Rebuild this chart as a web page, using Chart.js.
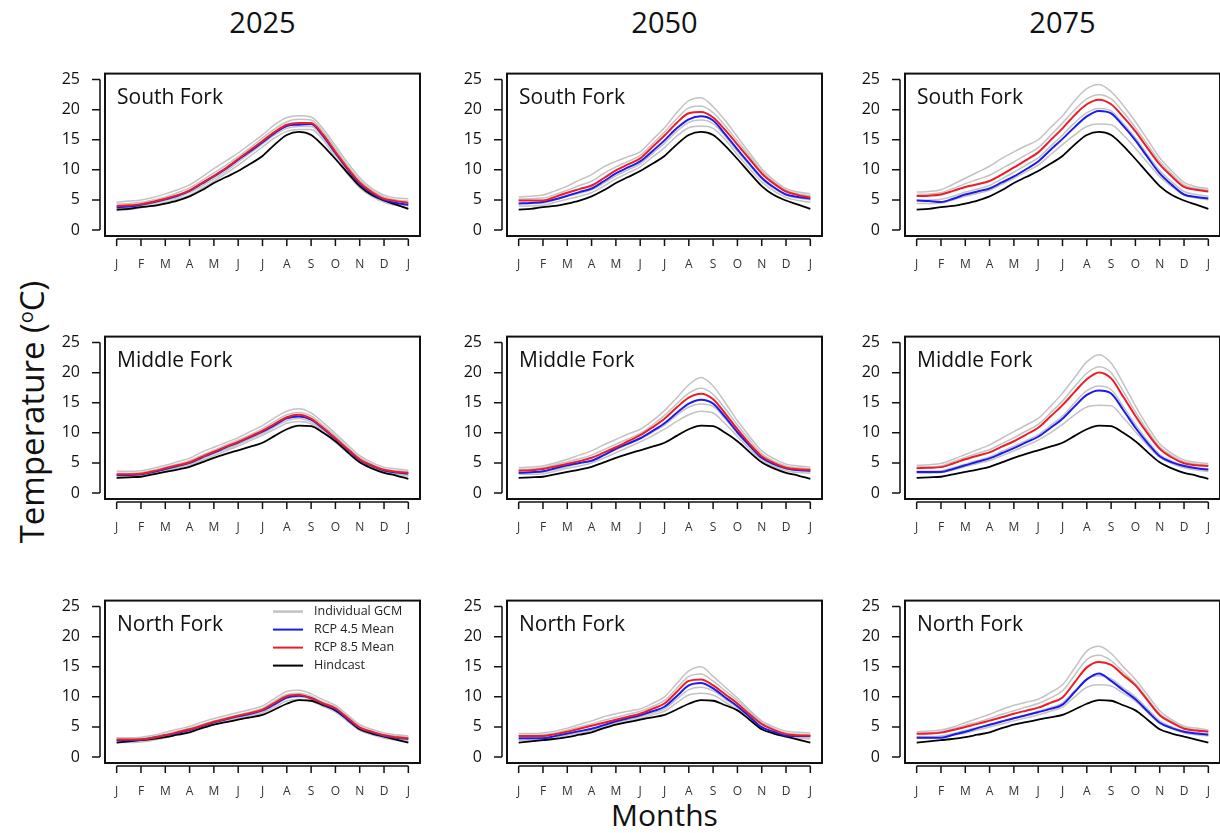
<!DOCTYPE html>
<html>
<head>
<meta charset="utf-8">
<script src="https://cdn.jsdelivr.net/npm/chart.js@4.4.1/dist/chart.umd.min.js"></script>
<style>
  body { margin: 0; background: #fff; width: 1220px; height: 833px; overflow: hidden; position: relative; font-family: "Open Sans", sans-serif; }
  canvas { position: absolute; }
  .title { position: absolute; text-align: center; font-size: 29px; line-height: 36px; color: #111; }
  #ytitle { position: absolute; left: 31px; top: 412px; transform: translate(-50%, -50%) rotate(-90deg); white-space: nowrap; font-size: 33px; color: #111; }
  #ytitle sup { font-size: 20px; vertical-align: 11px; }
</style>
</head>
<body>
<div class="title" style="left:105px;width:315px;top:4px">2025</div>
<div class="title" style="left:507px;width:315px;top:4px">2050</div>
<div class="title" style="left:905px;width:315px;top:4px">2075</div>
<div id="ytitle">Temperature (<sup>o</sup>C)</div>
<div class="title" style="left:507px;width:315px;top:797px;font-size:30px">Months</div>

<script>
// x positions: 1st and 15th of each month (0 = 1 Jan, 12 = 1 Jan next year)
const xMonths = [0,0.5,1,1.5,2,2.5,3,3.5,4,4.5,5,5.5,6,6.5,7,7.5,8,8.5,9,9.5,10,10.5,11,11.5,12];
const monthTicks = [0,1,2,3,4,5,6,7,8,9,10,11,12];
const monthLabels = ['J','F','M','A','M','J','J','A','S','O','N','D','J'];
const tempTicks = [0,5,10,15,20,25];
const years = ['2025','2050','2075'];
const forks = ['South Fork','Middle Fork','North Fork'];

// hindcast (same in every year)
const sfHind = [3.4,3.5,3.8,4.0,4.4,4.9,5.6,6.6,7.8,8.8,9.8,11.0,12.3,14.2,15.8,16.3,15.8,14.0,11.8,9.5,7.3,5.8,4.9,4.2,3.5];
const mfHind = [2.5,2.6,2.7,3.1,3.5,3.9,4.35,5.1,5.85,6.5,7.1,7.7,8.35,9.5,10.6,11.2,11.1,10.0,8.6,6.8,5.1,4.1,3.35,2.9,2.35];
const nfHind = [2.4,2.6,2.8,3.0,3.3,3.7,4.1,4.8,5.4,5.8,6.2,6.6,7.0,7.9,8.85,9.45,9.35,8.6,7.75,6.2,4.6,3.9,3.4,2.9,2.4];

// South Fork
const sf2025Rcp45 = [3.8,3.9,4.2,4.6,5.1,5.7,6.5,7.7,8.9,10.2,11.7,13.1,14.6,16.1,17.3,17.5,17.6,15.6,12.8,10.1,7.7,6.1,5.0,4.5,4.2];
const sf2025Rcp85 = [4.0,4.1,4.3,4.7,5.2,5.8,6.6,7.8,9.0,10.3,11.8,13.3,14.8,16.3,17.5,17.8,17.8,15.8,13.0,10.3,7.9,6.3,5.2,4.8,4.5];
const sf2025Gcm = [
  [4.6,4.8,5.0,5.4,6.0,6.7,7.5,8.8,10.2,11.5,12.8,14.3,15.8,17.5,18.7,19.0,18.8,16.8,14.0,11.2,8.7,6.9,5.8,5.3,5.2],
  [4.3,4.4,4.6,5.0,5.5,6.2,7.0,8.2,9.5,10.8,12.2,13.7,15.3,16.8,18.0,18.4,18.3,16.3,13.5,10.7,8.3,6.6,5.5,5.0,4.8],
  [3.6,3.7,4.0,4.4,4.9,5.4,6.2,7.3,8.5,9.8,11.3,12.8,14.3,15.8,16.9,17.2,17.2,15.3,12.5,9.8,7.4,5.9,4.8,4.3,4.0],
  [3.2,3.4,3.7,4.1,4.6,5.1,5.8,6.9,8.1,9.4,10.8,12.3,13.8,15.3,16.4,16.7,16.7,14.9,12.0,9.3,7.0,5.6,4.6,4.1,3.7]
];
const sf2050Rcp45 = [4.4,4.5,4.65,5.1,5.7,6.3,6.9,8.1,9.4,10.4,11.4,13.1,14.9,16.9,18.4,18.9,18.2,15.9,13.4,11.0,8.7,7.1,5.9,5.5,5.2];
const sf2050Rcp85 = [4.9,4.9,4.9,5.5,6.2,6.8,7.4,8.6,9.9,10.9,11.9,13.8,15.7,17.8,19.4,19.6,18.7,16.6,14.2,11.8,9.4,7.7,6.4,5.8,5.4];
const sf2050Gcm = [
  [5.5,5.6,5.8,6.5,7.3,8.3,9.2,10.5,11.4,12.2,13.0,15.0,17.0,19.5,21.5,22.0,20.5,18.2,15.5,12.8,10.2,8.3,6.9,6.3,6.0],
  [5.1,5.2,5.3,5.9,6.6,7.4,8.1,9.4,10.5,11.4,12.4,14.3,16.3,18.5,20.3,20.6,19.5,17.3,14.8,12.3,9.8,8.0,6.6,6.0,5.7],
  [4.4,4.4,4.5,5.0,5.6,6.1,6.7,7.8,9.0,10.0,11.0,12.7,14.4,16.4,17.9,18.3,17.7,15.6,13.1,10.8,8.5,6.9,5.8,5.3,5.0],
  [4.0,4.0,4.1,4.6,5.1,5.6,6.2,7.3,8.5,9.5,10.5,12.1,13.7,15.6,17.0,17.3,16.9,15.0,12.5,10.2,8.0,6.5,5.4,4.9,4.6]
];
const sf2075Rcp45 = [4.9,4.8,4.65,5.2,5.9,6.4,6.9,7.9,8.9,10.1,11.4,13.3,15.15,17.1,18.9,19.8,19.4,17.3,14.9,12.1,9.4,7.5,5.9,5.5,5.25];
const sf2075Rcp85 = [5.65,5.7,5.9,6.5,7.15,7.6,8.15,9.2,10.4,11.6,12.9,14.9,16.9,19.1,20.9,21.65,20.9,18.8,16.4,13.6,10.9,8.9,7.15,6.7,6.4];
const sf2075Gcm = [
  [6.3,6.4,6.7,7.6,8.6,9.6,10.6,11.9,13.0,14.0,15.0,17.0,19.0,21.5,23.5,24.2,23.0,20.7,18.0,15.0,12.0,9.8,7.9,7.2,6.9],
  [5.9,6.0,6.2,6.9,7.7,8.4,9.1,10.2,11.3,12.5,13.7,15.7,17.8,20.0,21.8,22.5,21.8,19.6,17.0,14.2,11.4,9.3,7.5,6.9,6.6],
  [5.0,5.0,5.1,5.6,6.3,6.8,7.4,8.5,9.6,10.8,12.0,13.9,15.8,17.8,19.5,20.2,19.8,17.7,15.3,12.5,9.9,8.0,6.4,5.9,5.6],
  [4.4,4.4,4.5,5.0,5.6,6.1,6.6,7.6,8.6,9.7,10.8,12.5,14.2,15.8,17.2,17.6,17.5,15.8,13.6,11.2,8.9,7.2,5.8,5.3,5.0]
];

// Middle Fork
const mf2025Rcp45 = [3.0,3.0,3.1,3.5,4.0,4.5,5.0,5.9,6.7,7.6,8.4,9.3,10.2,11.3,12.4,12.7,12.2,10.7,9.0,7.2,5.5,4.5,3.75,3.4,3.25];
const mf2025Rcp85 = [3.1,3.1,3.2,3.6,4.1,4.6,5.1,6.0,6.85,7.7,8.5,9.4,10.35,11.5,12.6,13.0,12.35,10.8,9.1,7.3,5.6,4.6,3.85,3.5,3.35];
const mf2025Gcm = [
  [3.6,3.6,3.7,4.1,4.6,5.2,5.8,6.8,7.6,8.4,9.2,10.2,11.2,12.5,13.6,14.0,13.3,11.7,9.9,8.0,6.2,5.1,4.3,4.0,3.8],
  [3.3,3.3,3.4,3.8,4.3,4.8,5.4,6.3,7.1,8.0,8.8,9.7,10.7,11.9,13.0,13.4,12.8,11.2,9.5,7.6,5.9,4.8,4.0,3.7,3.5],
  [2.9,2.9,3.0,3.4,3.8,4.3,4.8,5.6,6.5,7.3,8.1,9.0,9.9,11.0,12.0,12.4,11.8,10.3,8.7,6.9,5.3,4.3,3.6,3.2,3.0],
  [2.7,2.7,2.8,3.2,3.6,4.1,4.6,5.4,6.2,7.0,7.8,8.7,9.6,10.6,11.6,11.9,11.5,10.0,8.4,6.7,5.1,4.1,3.4,3.0,2.8]
];
const mf2050Rcp45 = [3.35,3.45,3.6,4.1,4.6,5.0,5.35,6.3,7.35,8.2,9.1,10.3,11.6,13.3,14.85,15.5,14.85,12.6,10.1,7.9,5.85,4.8,4.1,3.8,3.7];
const mf2050Rcp85 = [3.7,3.8,4.0,4.4,4.85,5.3,5.85,6.7,7.6,8.6,9.6,10.9,12.35,14.2,15.85,16.5,15.6,13.2,10.6,8.2,6.1,5.0,4.2,3.95,3.85];
const mf2050Gcm = [
  [4.2,4.3,4.5,5.0,5.6,6.3,7.0,8.0,8.9,9.8,10.6,12.0,13.7,15.8,18.0,19.2,17.8,15.0,12.0,9.4,7.0,5.7,4.8,4.5,4.3],
  [3.9,4.0,4.2,4.7,5.2,5.7,6.3,7.2,8.1,9.0,9.9,11.3,12.9,14.8,16.6,17.4,16.4,14.0,11.3,8.8,6.5,5.3,4.5,4.2,4.0],
  [3.3,3.4,3.5,3.9,4.4,4.9,5.4,6.3,7.2,8.1,9.0,10.1,11.3,12.9,14.3,14.8,14.4,12.3,9.9,7.7,5.7,4.7,4.0,3.7,3.5],
  [3.1,3.1,3.2,3.6,4.1,4.5,5.0,5.8,6.7,7.6,8.5,9.5,10.6,11.9,13.0,13.6,13.3,11.5,9.4,7.3,5.4,4.4,3.7,3.4,3.3]
];
const mf2075Rcp45 = [3.5,3.5,3.5,4.0,4.6,5.2,5.75,6.6,7.45,8.4,9.35,10.8,12.35,14.4,16.3,17.05,16.55,13.8,10.85,8.3,6.1,5.1,4.5,4.1,3.9];
const mf2075Rcp85 = [4.1,4.2,4.3,4.9,5.6,6.2,6.75,7.7,8.6,9.7,10.85,12.7,14.6,16.8,18.9,20.05,19.05,16.0,12.8,9.9,7.35,5.9,4.95,4.6,4.5];
const mf2075Gcm = [
  [4.6,4.7,4.9,5.6,6.4,7.2,8.0,9.1,10.2,11.3,12.4,14.4,16.6,19.2,21.8,23.0,21.6,18.2,14.5,11.1,8.2,6.6,5.5,5.1,4.9],
  [4.3,4.3,4.5,5.2,5.9,6.6,7.2,8.2,9.2,10.3,11.4,13.3,15.3,17.7,19.9,21.0,20.0,16.9,13.5,10.4,7.7,6.2,5.2,4.8,4.6],
  [3.6,3.6,3.7,4.2,4.8,5.4,6.0,6.9,7.8,8.7,9.7,11.2,12.8,15.0,17.0,17.8,17.2,14.4,11.4,8.7,6.4,5.3,4.6,4.2,4.0],
  [3.3,3.3,3.4,3.8,4.4,4.9,5.4,6.2,7.0,7.9,8.8,10.0,11.4,13.0,14.3,14.6,14.5,12.5,10.2,7.9,5.9,4.9,4.2,3.8,3.6]
];

// North Fork
const nf2025Rcp45 = [2.8,2.8,2.9,3.2,3.6,4.0,4.5,5.1,5.75,6.25,6.75,7.2,7.75,8.8,9.9,10.2,9.8,8.8,7.9,6.3,4.8,4.1,3.5,3.2,3.0];
const nf2025Rcp85 = [2.9,2.9,2.9,3.2,3.6,4.1,4.6,5.2,5.85,6.35,6.85,7.3,7.85,9.0,10.1,10.35,9.75,8.9,8.1,6.5,4.9,4.2,3.6,3.3,3.1];
const nf2025Gcm = [
  [3.2,3.2,3.3,3.6,4.1,4.6,5.1,5.8,6.4,6.9,7.4,7.9,8.5,9.7,10.9,11.1,10.5,9.5,8.6,7.0,5.4,4.6,4.0,3.7,3.5],
  [3.0,3.0,3.1,3.4,3.8,4.3,4.8,5.4,6.0,6.5,7.0,7.5,8.1,9.3,10.4,10.6,10.1,9.1,8.3,6.7,5.1,4.3,3.8,3.5,3.3],
  [2.6,2.6,2.7,3.0,3.4,3.9,4.4,5.0,5.6,6.1,6.6,7.0,7.5,8.6,9.7,10.0,9.6,8.6,7.7,6.1,4.6,3.9,3.3,3.0,2.8],
  [2.4,2.4,2.5,2.8,3.2,3.7,4.2,4.8,5.4,5.9,6.4,6.8,7.3,8.3,9.3,9.6,9.3,8.4,7.5,5.9,4.4,3.7,3.1,2.8,2.6]
];
const nf2050Rcp45 = [3.1,3.1,3.1,3.5,3.9,4.3,4.7,5.3,5.95,6.45,6.95,7.6,8.35,10.1,11.9,12.3,11.4,9.9,8.45,6.7,4.95,4.2,3.55,3.5,3.5];
const nf2050Rcp85 = [3.5,3.5,3.5,3.8,4.2,4.7,5.2,5.7,6.2,6.7,7.2,8.0,8.9,10.8,12.65,12.9,11.9,10.4,8.9,7.1,5.45,4.5,3.8,3.6,3.55];
const nf2050Gcm = [
  [3.9,3.9,4.0,4.3,4.8,5.4,6.0,6.7,7.2,7.6,8.0,8.9,10.0,12.2,14.3,15.0,13.4,11.6,9.8,7.8,6.0,5.0,4.3,4.1,4.0],
  [3.6,3.6,3.7,4.0,4.5,5.0,5.5,6.1,6.6,7.1,7.6,8.4,9.4,11.4,13.4,13.8,12.6,11.0,9.4,7.5,5.7,4.7,4.0,3.8,3.7],
  [3.0,3.0,3.1,3.4,3.8,4.2,4.6,5.1,5.7,6.2,6.7,7.3,8.0,9.6,11.2,11.6,11.0,9.6,8.2,6.5,4.9,4.1,3.5,3.3,3.2],
  [2.8,2.8,2.9,3.2,3.6,4.0,4.4,4.9,5.4,5.9,6.4,7.0,7.6,9.0,10.3,10.6,10.3,9.1,7.8,6.2,4.7,3.9,3.3,3.1,3.0]
];
const nf2075Rcp45 = [3.2,3.2,3.2,3.7,4.2,4.8,5.35,5.9,6.45,6.95,7.45,8.0,8.7,10.8,12.9,13.9,12.65,11.1,9.6,7.6,5.7,4.8,4.2,3.9,3.7];
const nf2075Rcp85 = [3.85,3.9,4.05,4.5,5.0,5.5,6.05,6.6,7.2,7.7,8.2,9.0,9.9,12.4,14.9,15.8,15.3,13.6,11.9,9.4,6.95,5.7,4.7,4.4,4.2];
const nf2075Gcm = [
  [4.2,4.3,4.5,5.0,5.7,6.4,7.1,7.9,8.6,9.1,9.6,10.7,12.0,14.8,17.6,18.4,17.2,15.0,12.9,10.3,7.7,6.2,5.1,4.8,4.5],
  [3.9,4.0,4.2,4.7,5.3,5.8,6.4,7.1,7.7,8.3,8.9,9.8,11.0,13.6,16.2,16.9,16.0,14.1,12.2,9.7,7.2,5.9,4.9,4.5,4.3],
  [3.4,3.4,3.5,3.9,4.4,4.9,5.4,6.0,6.5,7.0,7.6,8.2,9.0,11.0,13.0,13.5,13.0,11.5,10.0,8.0,6.0,5.0,4.3,4.0,3.8],
  [3.1,3.1,3.2,3.6,4.0,4.5,5.0,5.5,6.0,6.5,7.0,7.6,8.3,10.0,11.6,12.0,11.8,10.6,9.3,7.4,5.6,4.7,4.0,3.7,3.5]
];

const panels = [
  [sfHind, sf2025Rcp45, sf2025Rcp85, sf2025Gcm], [sfHind, sf2050Rcp45, sf2050Rcp85, sf2050Gcm], [sfHind, sf2075Rcp45, sf2075Rcp85, sf2075Gcm],
  [mfHind, mf2025Rcp45, mf2025Rcp85, mf2025Gcm], [mfHind, mf2050Rcp45, mf2050Rcp85, mf2050Gcm], [mfHind, mf2075Rcp45, mf2075Rcp85, mf2075Gcm],
  [nfHind, nf2025Rcp45, nf2025Rcp85, nf2025Gcm], [nfHind, nf2050Rcp45, nf2050Rcp85, nf2050Gcm], [nfHind, nf2075Rcp45, nf2075Rcp85, nf2075Gcm]
];

const GRAY = '#c3c3c3', BLUE = '#1b1bf0', RED = '#ee1c24', BLACK = '#000';
const boxLefts = [105, 507, 905];
const boxTops = [55, 318, 582];
const boxW = 315, boxH = 181, padL = 50, padT = 8, padR = 8, padB = 40;

function pts(arr) {
  return arr.map((v, i) => ({x: xMonths[i], y: v}));
}

const framePlugin = {
  id: 'frame',
  afterDraw(chart, args, opts) {
    const {ctx, chartArea: a} = chart;
    const x = chart.scales.x, y = chart.scales.y;
    ctx.save();
    ctx.strokeStyle = '#111';
    ctx.lineWidth = 2;
    ctx.strokeRect(a.left, a.top, a.right - a.left, a.bottom - a.top);

    // detached axes, R style
    ctx.lineWidth = 1.5;
    ctx.beginPath();
    const ax = a.left - 5;
    ctx.moveTo(ax, y.getPixelForValue(0));
    ctx.lineTo(ax, y.getPixelForValue(25));
    tempTicks.forEach(t => {
      const p = y.getPixelForValue(t);
      ctx.moveTo(ax, p); ctx.lineTo(ax - 8, p);
    });
    const ay = a.bottom + 3;
    ctx.moveTo(x.getPixelForValue(0), ay);
    ctx.lineTo(x.getPixelForValue(12), ay);
    monthTicks.forEach(t => {
      const p = x.getPixelForValue(t);
      ctx.moveTo(p, ay); ctx.lineTo(p, ay + 7);
    });
    ctx.stroke();

    ctx.fillStyle = '#111';
    ctx.font = '21px "Open Sans"';
    ctx.textBaseline = 'middle';
    ctx.fillText(opts.label, a.left + 12, a.top + 24);

    if (opts.legend) {
      const items = [['Individual GCM', GRAY, 2.5], ['RCP 4.5 Mean', BLUE, 2], ['RCP 8.5 Mean', RED, 2], ['Hindcast', BLACK, 2]];
      ctx.font = '12.5px "Open Sans"';
      items.forEach((it, i) => {
        const ly = a.top + 11 + i * 18;
        ctx.strokeStyle = it[1];
        ctx.lineWidth = it[2];
        ctx.beginPath();
        ctx.moveTo(a.left + 168, ly); ctx.lineTo(a.left + 198, ly);
        ctx.stroke();
        ctx.fillStyle = '#222';
        ctx.fillText(it[0], a.left + 209, ly);
      });
    }
    ctx.restore();
  }
};

panels.forEach((p, k) => {
  const row = Math.floor(k / 3), col = k % 3;
  const [hind, rcp45, rcp85, gcm] = p;
  const cv = document.createElement('canvas');
  cv.width = boxW + padL + padR;
  cv.height = boxH + padT + padB;
  cv.style.left = (boxLefts[col] - padL) + 'px';
  cv.style.top = (boxTops[row] - padT) + 'px';
  document.body.appendChild(cv);

  const datasets = [
    {label: 'RCP 8.5 Mean', data: pts(rcp85), borderColor: RED, borderWidth: 2},
    {label: 'RCP 4.5 Mean', data: pts(rcp45), borderColor: BLUE, borderWidth: 2},
    {label: 'Hindcast', data: pts(hind), borderColor: BLACK, borderWidth: 1.8}
  ];
  gcm.forEach(g => datasets.push({label: 'Individual GCM', data: pts(g), borderColor: GRAY, borderWidth: 1.5}));

  new Chart(cv.getContext('2d'), {
    type: 'line',
    data: {datasets},
    options: {
      responsive: false,
      animation: false,
      events: [],
      layout: {padding: {top: padT, right: padR, left: 0, bottom: 0}},
      elements: {point: {radius: 0}, line: {tension: 0.4, cubicInterpolationMode: 'monotone'}},
      plugins: {
        legend: {display: false},
        tooltip: {enabled: false},
        frame: {label: forks[row], legend: row === 2 && col === 0}
      },
      scales: {
        x: {
          type: 'linear', min: -0.48, max: 12.48,
          grid: {display: false}, border: {display: false},
          afterBuildTicks: s => { s.ticks = monthTicks.map(v => ({value: v})); },
          afterFit: s => { s.height = padB; },
          ticks: {
            autoSkip: false, maxRotation: 0, padding: 13, color: '#333',
            font: {family: 'Open Sans', size: 12},
            callback: (v, i) => monthLabels[i]
          }
        },
        y: {
          min: -1, max: 26,
          grid: {display: false}, border: {display: false},
          afterBuildTicks: s => { s.ticks = tempTicks.map(v => ({value: v})); },
          afterFit: s => { s.width = padL; },
          ticks: {padding: 17, color: '#111', font: {family: 'Open Sans', size: 16}}
        }
      }
    },
    plugins: [framePlugin]
  });
});
</script>
</body>
</html>
